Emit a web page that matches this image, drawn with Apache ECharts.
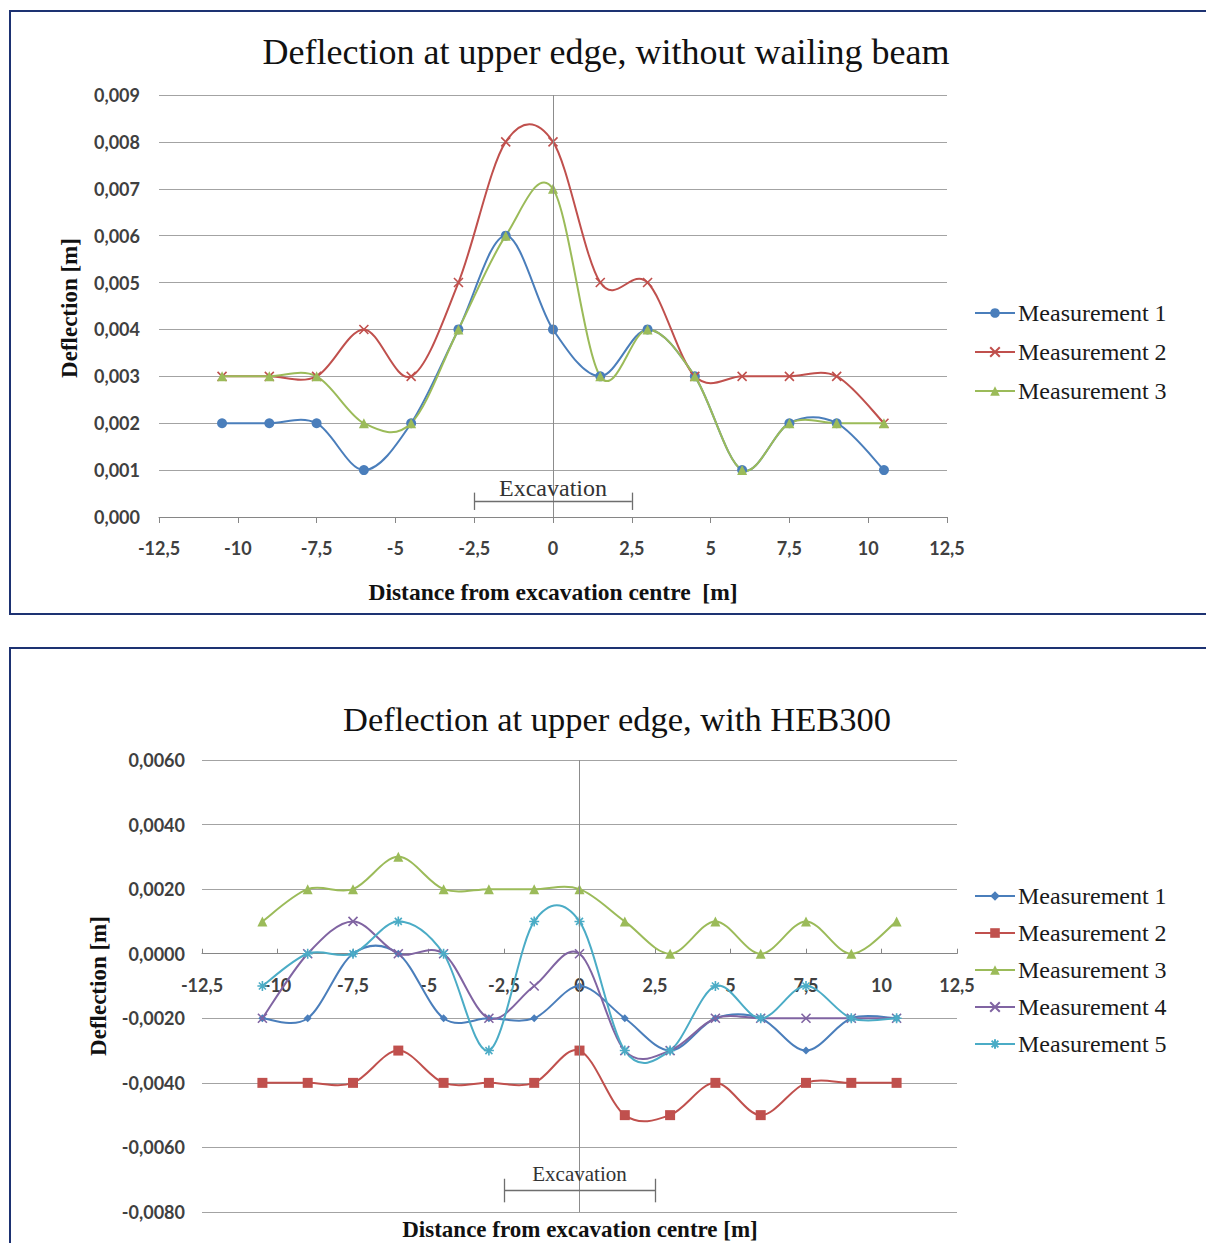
<!DOCTYPE html>
<html>
<head>
<meta charset="utf-8">
<script src="https://cdn.jsdelivr.net/npm/echarts@6/dist/echarts.min.js"></script>
<style>
  html, body { margin: 0; padding: 0; background: #fff; width: 1206px; height: 1243px; overflow: hidden; }
  #top { position: absolute; left: 0; top: 0; width: 1206px; height: 630px; }
  #bottom { position: absolute; left: 0; top: 630px; width: 1206px; height: 613px; }
  .frame { position: absolute; left: 9px; width: 1201px; border: 2px solid #1d3272; box-sizing: border-box; pointer-events: none; }
</style>
</head>
<body>
<div id="top"></div>
<div id="bottom"></div>
<div class="frame" style="top:10px;height:605px"></div>
<div class="frame" style="top:647px;height:700px"></div>
<script>
// Measuring points along the wall (distance from excavation centre, m)
const distances = [-10.5, -9, -7.5, -6, -4.5, -3, -1.5, 0, 1.5, 3, 4.5, 6, 7.5, 9, 10.5];
const excavation = [-2.5, 2.5];

// Without wailing beam (deflection, m)
const topTitle = 'Deflection at upper edge, without wailing beam';
const topNames = ['Measurement 1', 'Measurement 2', 'Measurement 3'];
const topM1 = [0.002, 0.002, 0.002, 0.001, 0.002, 0.004, 0.006, 0.004, 0.003, 0.004, 0.003, 0.001, 0.002, 0.002, 0.001];
const topM2 = [0.003, 0.003, 0.003, 0.004, 0.003, 0.005, 0.008, 0.008, 0.005, 0.005, 0.003, 0.003, 0.003, 0.003, 0.002];
const topM3 = [0.003, 0.003, 0.003, 0.002, 0.002, 0.004, 0.006, 0.007, 0.003, 0.004, 0.003, 0.001, 0.002, 0.002, 0.002];

// With HEB300 (deflection, m)
const bottomTitle = 'Deflection at upper edge, with HEB300';
const bottomNames = ['Measurement 1', 'Measurement 2', 'Measurement 3', 'Measurement 4', 'Measurement 5'];
const botM1 = [-0.002, -0.002, 0.000, 0.000, -0.002, -0.002, -0.002, -0.001, -0.002, -0.003, -0.002, -0.002, -0.003, -0.002, -0.002];
const botM2 = [-0.004, -0.004, -0.004, -0.003, -0.004, -0.004, -0.004, -0.003, -0.005, -0.005, -0.004, -0.005, -0.004, -0.004, -0.004];
const botM3 = [0.001, 0.002, 0.002, 0.003, 0.002, 0.002, 0.002, 0.002, 0.001, 0.000, 0.001, 0.000, 0.001, 0.000, 0.001];
const botM4 = [-0.002, 0.000, 0.001, 0.000, 0.000, -0.002, -0.001, 0.000, -0.003, -0.003, -0.002, -0.002, -0.002, -0.002, -0.002];
const botM5 = [-0.001, 0.000, 0.000, 0.001, 0.000, -0.003, 0.001, 0.001, -0.003, -0.003, -0.001, -0.002, -0.001, -0.002, -0.002];

const COLORS = { blue: '#4a7ebb', red: '#c0504d', green: '#9bbb59', purple: '#8064a2', cyan: '#4bacc6' };
const CROSS = 'path://M0,0L10,10M10,0L0,10';
const STAR = 'path://M0,5L10,5M5,0L5,10M1.5,1.5L8.5,8.5M8.5,1.5L1.5,8.5';

const TICK_FONT = { fontFamily: 'Lato', fontSize: 18, fontWeight: 'bold', color: '#404040' };
const SERIF = '"Liberation Serif", "DejaVu Serif", serif';
const AXIS_GREY = '#868686';
const GRID_GREY = '#a3a3a3';

const fmtX = v => String(v).replace('.', ',');
const fmtY = digits => v => (Math.abs(v) < 1e-12 ? 0 : v).toFixed(digits).replace('.', ',');

// Markers only; the connecting curve is drawn by the matching custom series
function markers(name, values, color, symbol, size) {
  const stroked = symbol.startsWith('path://');
  return {
    type: 'line',
    name: name,
    data: distances.map((x, i) => [x, values[i]]),
    symbol: symbol,
    symbolSize: size,
    showSymbol: true,
    lineStyle: { color: color, width: 2, opacity: 0 },
    itemStyle: { color: color, borderColor: color, borderWidth: stroked ? 1.6 : 0 },
    emphasis: { disabled: true },
    z: 4
  };
}

// Smoothed connection (cardinal bezier through neighbouring measurements)
function curve(name, values, color) {
  const n = values.length;
  return {
    type: 'custom',
    name: name,
    data: distances.map((x, i) => [x, values[i]]),
    encode: { x: 0, y: 1 },
    silent: true,
    z: 3,
    renderItem: function (params, api) {
      const i = params.dataIndex;
      if (i >= n - 1) return null;
      const pt = j => {
        const k = Math.max(0, Math.min(n - 1, j));
        return api.coord([distances[k], values[k]]);
      };
      const p0 = pt(i - 1), p1 = pt(i), p2 = pt(i + 1), p3 = pt(i + 2);
      const t = 1 / 6;
      return {
        type: 'bezierCurve',
        shape: {
          x1: p1[0], y1: p1[1], x2: p2[0], y2: p2[1],
          cpx1: p1[0] + (p2[0] - p0[0]) * t, cpy1: p1[1] + (p2[1] - p0[1]) * t,
          cpx2: p2[0] - (p3[0] - p1[0]) * t, cpy2: p2[1] - (p3[1] - p1[1]) * t
        },
        style: { stroke: color, lineWidth: 2, fill: 'none' }
      };
    }
  };
}

function measurement(name, values, color, symbol, size) {
  return [markers(name, values, color, symbol, size), curve(name, values, color)];
}

// Vertical line through x = 0 plus the excavation bracket
function referenceLines(y, tickLow, tickHigh, labelSize, labelDist) {
  return {
    type: 'line',
    name: 'Excavation',
    data: [],
    silent: true,
    markLine: {
      silent: true,
      symbol: 'none',
      animation: false,
      label: { show: false },
      emphasis: { disabled: true },
      lineStyle: { color: '#6e6e6e', width: 1.3, type: 'solid' },
      data: [
        [{ coord: [0, 'min'], lineStyle: { color: '#8c8c8c', width: 1 } }, { coord: [0, 'max'] }],
        [{
          coord: [excavation[0], y],
          label: {
            show: true, formatter: 'Excavation', position: 'insideMiddleTop', distance: labelDist,
            fontFamily: SERIF, fontSize: labelSize, color: '#333'
          }
        }, { coord: [excavation[1], y] }],
        [{ coord: [excavation[0], tickLow] }, { coord: [excavation[0], tickHigh] }],
        [{ coord: [excavation[1], tickLow] }, { coord: [excavation[1], tickHigh] }]
      ]
    }
  };
}

function legend(names, top, gap) {
  return {
    data: names,
    orient: 'vertical',
    left: 969,
    top: top,
    itemWidth: 40,
    itemHeight: 12,
    itemGap: gap,
    selectedMode: false,
    lineStyle: { opacity: 1, width: 2 },
    textStyle: { fontFamily: SERIF, fontSize: 24, color: '#1a1a1a', padding: [0, 0, 0, -2] }
  };
}

function titleText(text, x, y, size, bold, rotate) {
  return {
    type: 'text', x: x, y: y, rotation: rotate ? Math.PI / 2 : 0, silent: true,
    style: {
      text: text, fontFamily: SERIF, fontSize: size, fontWeight: bold ? 'bold' : 'normal',
      fill: '#111', textAlign: 'center', textVerticalAlign: 'middle'
    }
  };
}

// ---- upper chart ----
const topChart = echarts.init(document.getElementById('top'), null, { renderer: 'svg' });
topChart.setOption({
  animation: false,
  backgroundColor: 'transparent',
  grid: { left: 159, top: 95, width: 788, height: 422, outerBoundsMode: 'none' },
  xAxis: {
    type: 'value', min: -12.5, max: 12.5, interval: 2.5,
    axisLine: { show: true, onZero: false, lineStyle: { color: AXIS_GREY } },
    axisTick: { show: true, inside: false, length: 6, lineStyle: { color: AXIS_GREY } },
    axisLabel: Object.assign({ formatter: fmtX, margin: 22 }, TICK_FONT),
    splitLine: { show: false }
  },
  yAxis: {
    type: 'value', min: 0, max: 0.009, interval: 0.001,
    axisLine: { show: false }, axisTick: { show: false },
    axisLabel: Object.assign({ formatter: fmtY(3), margin: 19 }, TICK_FONT),
    splitLine: { lineStyle: { color: GRID_GREY, width: 1 } }
  },
  legend: legend(topNames, 296, 15),
  graphic: [
    titleText(topTitle, 606, 52, 36, false),
    titleText('Deflection [m]', 69, 308, 23, true, true),
    titleText('Distance from excavation centre  [m]', 553, 592, 23.5, true)
  ],
  series: [
    referenceLines(0.00034, 0.00015, 0.00052, 24, 1),
    ...measurement(topNames[0], topM1, COLORS.blue, 'circle', 10),
    ...measurement(topNames[1], topM2, COLORS.red, CROSS, 9),
    ...measurement(topNames[2], topM3, COLORS.green, 'triangle', 10)
  ]
});

// ---- lower chart ----
const BOTTOM_GRID = { left: 202, top: 130, width: 755, height: 452, outerBoundsMode: 'none' };
const bottomChart = echarts.init(document.getElementById('bottom'), null, { renderer: 'svg' });
bottomChart.setOption({
  animation: false,
  backgroundColor: 'transparent',
  grid: BOTTOM_GRID,
  xAxis: {
    type: 'value', min: -12.5, max: 12.5, interval: 2.5,
    axisLine: { show: true, onZero: false, lineStyle: { color: AXIS_GREY } },
    axisTick: { show: true, inside: true, length: 5, lineStyle: { color: AXIS_GREY } },
    axisLabel: Object.assign({ formatter: fmtX, margin: 22 }, TICK_FONT),
    splitLine: { show: false }
  },
  yAxis: {
    type: 'value', min: -0.008, max: 0.006, interval: 0.002,
    axisLine: { show: false }, axisTick: { show: false },
    axisLabel: Object.assign({ formatter: fmtY(4), margin: 17 }, TICK_FONT),
    splitLine: { lineStyle: { color: GRID_GREY, width: 1 } }
  },
  legend: legend(bottomNames, 249, 13),
  graphic: [
    titleText(bottomTitle, 617, 89, 34.5, false),
    titleText('Deflection [m]', 98, 356, 23, true, true),
    titleText('Distance from excavation centre [m]', 580, 599, 23, true)
  ],
  series: [
    referenceLines(-0.00734, -0.0077, -0.00697, 21, 6),
    ...measurement(bottomNames[0], botM1, COLORS.blue, 'diamond', 8),
    ...measurement(bottomNames[1], botM2, COLORS.red, 'rect', 10),
    ...measurement(bottomNames[2], botM3, COLORS.green, 'triangle', 10),
    ...measurement(bottomNames[3], botM4, COLORS.purple, CROSS, 9),
    ...measurement(bottomNames[4], botM5, COLORS.cyan, STAR, 10)
  ]
});
// The horizontal axis (line, ticks, labels) crosses at deflection 0
const zeroY = bottomChart.convertToPixel({ yAxisIndex: 0 }, 0);
bottomChart.setOption({ xAxis: { offset: zeroY - (BOTTOM_GRID.top + BOTTOM_GRID.height) } });
</script>
</body>
</html>
